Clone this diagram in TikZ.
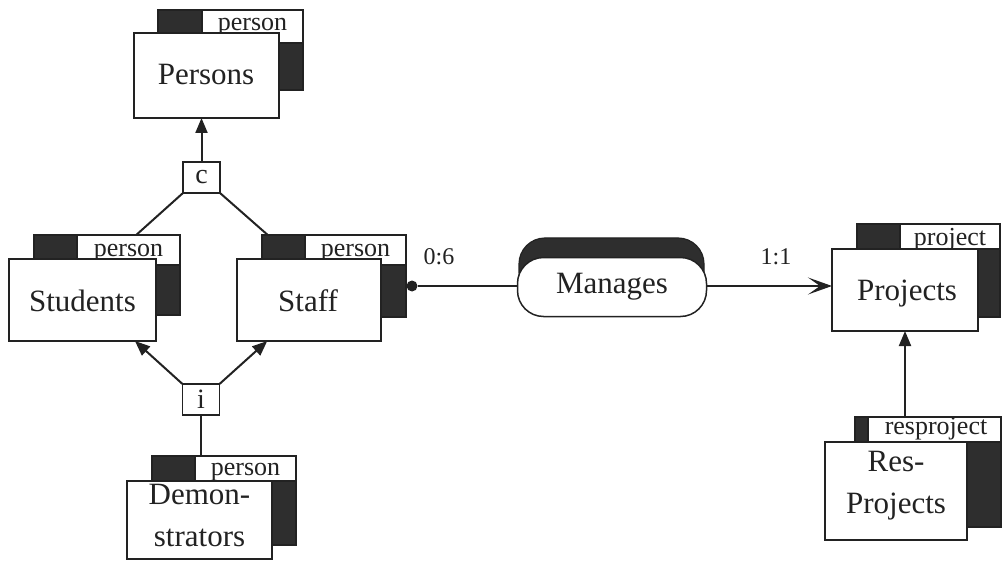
\documentclass[tikz,border=0pt]{standalone}
\usepackage{fontspec}
\setmainfont{Liberation Serif}
\usetikzlibrary{arrows.meta,fit,calc}
\definecolor{ink}{HTML}{222222}
\definecolor{shade}{HTML}{2E2E2E}
\begin{document}
\begin{tikzpicture}[x=1pt,y=-1pt,
 every node/.style={inner sep=0pt, outer sep=0pt},
 backbox/.style={draw=ink, line width=1.2pt, fill=shade},
 labelbox/.style={draw=ink, line width=1.2pt, fill=white},
 frontbox/.style={draw=ink, line width=1.5pt, fill=white},
 maintext/.style={font=\fontsize{31}{42}\selectfont, text=ink, align=center},
 labeltext/.style={font=\fontsize{26}{30}\selectfont, text=ink, anchor=base},
 card/.style={font=\fontsize{24}{28}\selectfont, text=ink, anchor=base},
 smallbox/.style={draw=ink, line width=1.5pt, fill=white, minimum width=37pt, minimum height=31pt, font=\fontsize{28}{30}\selectfont, text=ink},
 conn/.style={draw=ink, line width=2pt},
 tri/.style={-{Triangle[length=15pt,width=12pt]}},
 barb/.style={-{Stealth[length=24pt,width=17pt,inset=12pt]}},
 relback/.style={fill=shade, draw=ink, line width=1.2pt, rounded corners=26pt, minimum width=185pt, minimum height=60pt},
 relfront/.style={fill=white, draw=ink, line width=1.5pt, rounded corners=26pt, minimum width=189pt, minimum height=59pt, font=\fontsize{31}{36}\selectfont, text=ink},
 dotnode/.style={circle, fill=ink, minimum size=11pt},
]
\useasboundingbox (0,0) rectangle (1003,561);

% Persons
\node[backbox, fit={(158,10)(303,90)}] (personsB) {};
\node[labelbox, fit={(202,10)(303,43)}] (personsL) {};
\node[labeltext] (personsLT) at (252.5,31) {person};
\node[frontbox, fit={(134,33)(279,118)}] (personsF) {};
\node[maintext, anchor=base] (personsT) at (206,85) {Persons};

% Students
\node[backbox, fit={(34,235)(180,315)}] (studentsB) {};
\node[labelbox, fit={(77,235)(180,265)}] (studentsL) {};
\node[labeltext] (studentsLT) at (128.5,256) {person};
\node[frontbox, fit={(9,259)(156,341)}] (studentsF) {};
\node[maintext, anchor=base] (studentsT) at (82.5,311) {Students};

% Staff
\node[backbox, fit={(262,235)(406,317)}] (staffB) {};
\node[labelbox, fit={(305,235)(406,265)}] (staffL) {};
\node[labeltext] (staffLT) at (355.5,256) {person};
\node[frontbox, fit={(237,259)(381,341)}] (staffF) {};
\node[maintext, anchor=base] (staffT) at (308,311) {Staff};

% Demonstrators
\node[backbox, fit={(152,456)(296,545)}] (demonB) {};
\node[labelbox, fit={(195,456)(296,481)}] (demonL) {};
\node[labeltext] (demonLT) at (245.5,475) {person};
\node[frontbox, fit={(127,481)(272,559)}] (demonF) {};
\node[maintext] (demonT) at (199.5,515) {Demon-\\strators};

% Projects
\node[backbox, fit={(857,224)(1000,317)}] (projectsB) {};
\node[labelbox, fit={(900,224)(1000,249)}] (projectsL) {};
\node[labeltext] (projectsLT) at (950,245) {project};
\node[frontbox, fit={(832,249)(978,331)}] (projectsF) {};
\node[maintext, anchor=base] (projectsT) at (907,300) {Projects};

% Res-Projects
\node[backbox, fit={(855,417)(1001,527)}] (resB) {};
\node[labelbox, fit={(868,417)(1001,442)}] (resL) {};
\node[labeltext] (resLT) at (936,434) {resproject};
\node[frontbox, fit={(825,442)(967,540)}] (resF) {};
\node[maintext] (resT) at (896,486) {Res-\\Projects};

% Relationship
\node[relback] (managesB) at (611.5,268) {};
\node[relfront] (managesF) at (612,287) {Manages};

% small boxes
\node[smallbox] (c) at (201.5,177.5) {c};
\node[smallbox] (i) at (201,399.5) {i};

% connectors
\draw[conn, tri] (c.north) -- (c.north |- personsF.south);
\draw[conn] (c.south west) -- ($(studentsB.north west)!0.7!(studentsB.north east)$);
\draw[conn] (c.south east) -- ($(staffB.north west)!0.04!(staffB.north east)$);
\draw[conn, tri] (i.north west) -- ($(studentsF.south west)!0.857!(studentsF.south east)$);
\draw[conn, tri] (i.north east) -- ($(staffF.south west)!0.21!(staffF.south east)$);
\draw[conn] (i.south) -- (i.south |- demonB.north);

\node[dotnode] (staffdot) at ($(staffB.east |- managesF.west)+(6,-1)$) {};
\draw[conn] (staffdot) -- (staffdot -| managesF.west);
\draw[conn, barb] (staffdot -| managesF.east) -- (staffdot -| projectsF.west);
\draw[conn, tri] (projectsF.south |- resB.north) -- (projectsF.south);

\node[card] (card06) at (439,265) {0:6};
\node[card] (card11) at (776,265) {1:1};
\end{tikzpicture}
\end{document}
